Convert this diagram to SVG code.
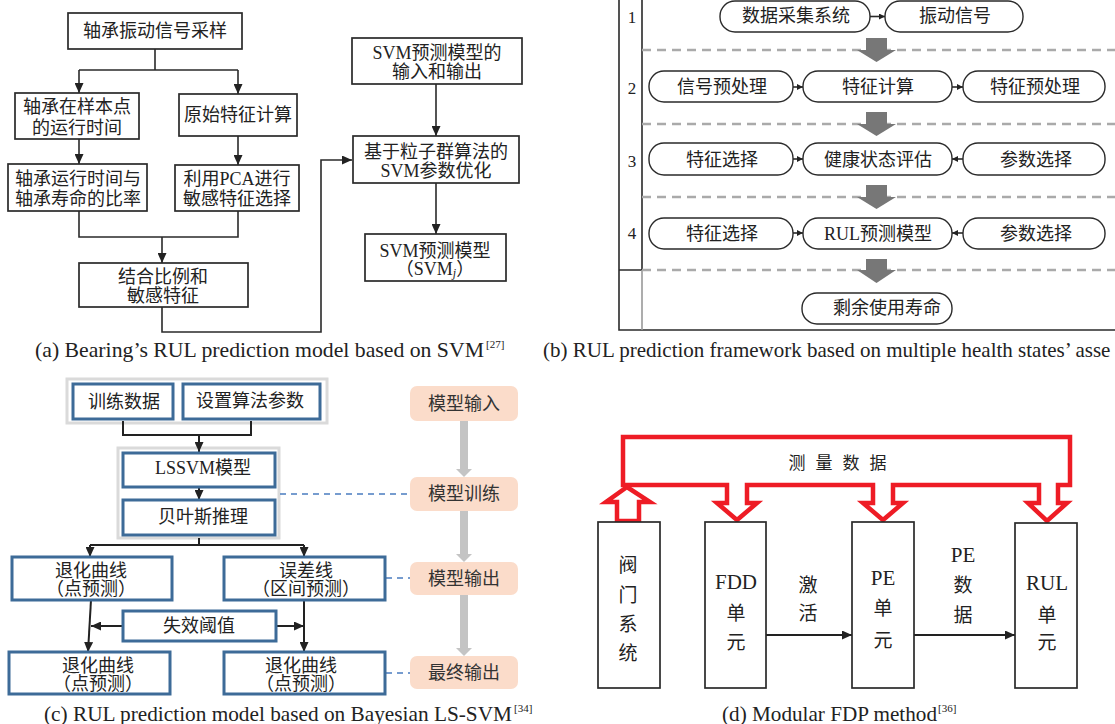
<svg xmlns="http://www.w3.org/2000/svg" width="1115" height="724" viewBox="0 0 1115 724">
<defs>
<style>
.t{font-family:'Liberation Serif','Noto Sans CJK SC',serif;font-size:18px;fill:#222;text-anchor:middle;dominant-baseline:central}
.v{font-size:19px}
.vl{font-size:21px}
.num{font-size:17px}
.cap{font-family:'Liberation Serif',serif;font-size:21px;fill:#222}
.sup{font-family:'Liberation Serif',serif;font-size:11px;fill:#222}
.box{fill:#fff;stroke:#2a2a2a;stroke-width:1.7}
.ln{fill:none;stroke:#2a2a2a;stroke-width:1.6}
.pill{fill:#fff;stroke:#2a2a2a;stroke-width:1.4}
.dsh{fill:none;stroke:#aaa;stroke-width:2.5;stroke-dasharray:9 6}
.garr{fill:#777}
.bb{fill:#fff;stroke:#3d6b98;stroke-width:3}
.gc{fill:#fff;stroke:#dadada;stroke-width:3}
.pch{fill:#fbdcca}
.bd{fill:none;stroke:#4a7cc0;stroke-width:1.5;stroke-dasharray:6 5}
.lc{fill:none;stroke:#222;stroke-width:2}
.parr{fill:#c4c4c4}
.red{fill:#fff;stroke:#ee1c25;stroke-width:4.5;stroke-linejoin:miter}
.pt{fill:#333}
</style>
<marker id="ah" markerUnits="userSpaceOnUse" markerWidth="10" markerHeight="9" refX="10" refY="4.5" orient="auto">
<path d="M0,0 L10,4.5 L0,9 z" fill="#222"/>
</marker>
<marker id="sa" markerUnits="userSpaceOnUse" markerWidth="6" markerHeight="6" refX="6" refY="3" orient="auto">
<path d="M0,0 L6,3 L0,6 z" fill="#222"/>
</marker>
</defs>
<rect width="1115" height="724" fill="#fff"/>

<!-- ===== Panel (a) ===== -->
<g id="connectors-a">
<path class="ln" d="M155,49 V70 M79,70 H238"/>
<path class="ln" d="M79,70 V93" marker-end="url(#ah)"/>
<path class="ln" d="M238,70 V94" marker-end="url(#ah)"/>
<path class="ln" d="M79,139 V164" marker-end="url(#ah)"/>
<path class="ln" d="M238,136 V165" marker-end="url(#ah)"/>
<path class="ln" d="M79,211 V237 H238 V211"/>
<path class="ln" d="M162,237 V263" marker-end="url(#ah)"/>
<path class="ln" d="M162,307 V332 H321 V160 H352" marker-end="url(#ah)"/>
<path class="ln" d="M436,84 V136" marker-end="url(#ah)"/>
<path class="ln" d="M436,183 V234" marker-end="url(#ah)"/>
</g>
<g id="a-sample"><rect class="box" x="68" y="13" width="174" height="36"/><text class="t" x="155" y="31">轴承振动信号采样</text></g>
<g id="a-runtime"><rect class="box" x="15" y="93" width="124" height="46"/><text class="t" x="77" y="107">轴承在样本点</text><text class="t" x="77" y="128">的运行时间</text></g>
<g id="a-rawfeat"><rect class="box" x="179" y="94" width="118" height="42"/><text class="t" x="238" y="115">原始特征计算</text></g>
<g id="a-ratio"><rect class="box" x="8" y="164" width="139" height="47"/><text class="t" x="78" y="179">轴承运行时间与</text><text class="t" x="78" y="199">轴承寿命的比率</text></g>
<g id="a-pca"><rect class="box" x="175" y="165" width="124" height="46"/><text class="t" x="237" y="179">利用PCA进行</text><text class="t" x="237" y="199">敏感特征选择</text></g>
<g id="a-combine"><rect class="box" x="79" y="263" width="169" height="44"/><text class="t" x="163" y="277">结合比例和</text><text class="t" x="163" y="296">敏感特征</text></g>
<g id="a-io"><rect class="box" x="352" y="38" width="170" height="46"/><text class="t" x="437" y="53">SVM预测模型的</text><text class="t" x="437" y="72">输入和输出</text></g>
<g id="a-pso"><rect class="box" x="353" y="136" width="166" height="47"/><text class="t" x="436" y="152">基于粒子群算法的</text><text class="t" x="436" y="171">SVM参数优化</text></g>
<g id="a-model"><rect class="box" x="365" y="234" width="141" height="47"/><text class="t" x="435" y="251">SVM预测模型</text><text class="t" x="435" y="269">（SVM<tspan font-style="italic" style="font-size:12px" dy="4">j</tspan><tspan dy="-4">）</tspan></text></g>
<text class="cap" x="35" y="357" textLength="449" lengthAdjust="spacingAndGlyphs">(a) Bearing’s RUL prediction model based on SVM</text>
<text class="sup" x="486" y="348">[27]</text>

<!-- ===== Panel (b) ===== -->
<g id="b-frame">
<path class="ln" d="M619,0 V330 H1115"/>
<path class="ln" d="M642,0 V270 M619,270 H642"/>
<path fill="none" stroke="#999" stroke-width="1.6" d="M642,270 V330"/>
<text class="t num" x="632" y="17">1</text>
<text class="t num" x="632" y="88">2</text>
<text class="t num" x="632" y="161">3</text>
<text class="t num" x="632" y="233">4</text>
<path class="dsh" d="M642,50 H1115 M642,124 H1115 M642,197 H1115 M642,270 H1115"/>
</g>
<g id="connectors-b">
<path class="garr" d="M866,38 H887 V50 H896 L876.5,62 L857,50 H866 Z"/>
<path class="garr" d="M866,112 H887 V124 H896 L876.5,136 L857,124 H866 Z"/>
<path class="garr" d="M866,185 H887 V197 H896 L876.5,209 L857,197 H866 Z"/>
<path class="garr" d="M866,259 H887 V270 H896 L876.5,283 L857,270 H866 Z"/>
<path class="ln" stroke-width="1.3" d="M870,16.5 H885" marker-end="url(#sa)"/>
<path class="ln" stroke-width="1.3" d="M793,87 H803" marker-end="url(#sa)"/>
<path class="ln" stroke-width="1.3" d="M952,87 H963" marker-end="url(#sa)"/>
<path class="ln" stroke-width="1.3" d="M793,159 H803" marker-end="url(#sa)"/>
<path class="ln" stroke-width="1.3" d="M963,159 H952" marker-end="url(#sa)"/>
<path class="ln" stroke-width="1.3" d="M793,233 H803" marker-end="url(#sa)"/>
<path class="ln" stroke-width="1.3" d="M963,233 H952" marker-end="url(#sa)"/>
</g>
<g id="b-daq"><rect class="pill" x="720" y="1" width="150" height="31" rx="15" ry="15"/><text class="t" x="796" y="16">数据采集系统</text></g>
<g id="b-vib"><rect class="pill" x="885" y="1" width="138" height="31" rx="15" ry="15"/><text class="t" x="955" y="16">振动信号</text></g>
<g id="b-pre"><rect class="pill" x="649" y="71" width="144" height="31" rx="15" ry="15"/><text class="t" x="722" y="87">信号预处理</text></g>
<g id="b-feat"><rect class="pill" x="803" y="71" width="149" height="31" rx="15" ry="15"/><text class="t" x="878" y="87">特征计算</text></g>
<g id="b-featpre"><rect class="pill" x="963" y="71" width="142" height="31" rx="15" ry="15"/><text class="t" x="1035" y="87">特征预处理</text></g>
<g id="b-sel3"><rect class="pill" x="649" y="143" width="144" height="32" rx="15" ry="15"/><text class="t" x="722" y="160">特征选择</text></g>
<g id="b-health"><rect class="pill" x="803" y="143" width="149" height="32" rx="15" ry="15"/><text class="t" x="878" y="160">健康状态评估</text></g>
<g id="b-par3"><rect class="pill" x="963" y="143" width="142" height="32" rx="15" ry="15"/><text class="t" x="1036" y="160">参数选择</text></g>
<g id="b-sel4"><rect class="pill" x="649" y="218" width="144" height="31" rx="15" ry="15"/><text class="t" x="722" y="234">特征选择</text></g>
<g id="b-rul"><rect class="pill" x="803" y="218" width="149" height="31" rx="15" ry="15"/><text class="t" x="878" y="234">RUL预测模型</text></g>
<g id="b-par4"><rect class="pill" x="963" y="218" width="142" height="31" rx="15" ry="15"/><text class="t" x="1036" y="234">参数选择</text></g>
<g id="b-life"><rect class="pill" x="802" y="293" width="150" height="31" rx="15" ry="15"/><text class="t" x="887" y="308">剩余使用寿命</text></g>
<text class="cap" x="543" y="357">(b) RUL prediction framework based on multiple health states’ asse</text>

<!-- ===== Panel (c) ===== -->
<g id="c-containers">
<rect class="gc" x="67" y="379" width="260" height="44"/>
<rect class="gc" x="118" y="448" width="161" height="90"/>
</g>
<g id="connectors-c">
<path class="lc" d="M123,421 V435 H251 V421"/>
<path class="lc" d="M199,435 V452" marker-end="url(#ah)"/>
<path class="lc" d="M199,487 V500" marker-end="url(#ah)"/>
<path class="lc" d="M199,538 V545 M90,545 H304"/>
<path class="lc" d="M90,545 V557" marker-end="url(#ah)"/>
<path class="lc" d="M304,545 V557" marker-end="url(#ah)"/>
<path class="lc" d="M91,600 L88,652" marker-end="url(#ah)"/>
<path class="lc" d="M304,600 V652" marker-end="url(#ah)"/>
<path class="lc" d="M123,626 H91" marker-end="url(#ah)"/>
<path class="lc" d="M276,626 H304" marker-end="url(#ah)"/>
<path class="bd" d="M280,494 H410 M386,578 H410 M386,673 H410"/>
<path class="parr" d="M460,421 H468 V469 H472 L464,477 L456,469 H460 Z"/>
<path class="parr" d="M460,511 H468 V554 H472 L464,562 L456,554 H460 Z"/>
<path class="parr" d="M460,595 H468 V648 H472 L464,656 L456,648 H460 Z"/>
</g>
<g id="c-train"><rect class="bb" x="73" y="384" width="100" height="35"/><text class="t" x="124" y="402">训练数据</text></g>
<g id="c-param"><rect class="bb" x="183" y="384" width="137" height="35"/><text class="t" x="250" y="401">设置算法参数</text></g>
<g id="c-lssvm"><rect class="bb" x="123" y="453" width="152" height="34"/><text class="t" x="203" y="468">LSSVM模型</text></g>
<g id="c-bayes"><rect class="bb" x="123" y="500" width="152" height="35"/><text class="t" x="203" y="517">贝叶斯推理</text></g>
<g id="c-deg1"><rect class="bb" x="12" y="557" width="160" height="43"/><text class="t" x="91" y="571">退化曲线</text><text class="t" x="91" y="589">（点预测）</text></g>
<g id="c-err"><rect class="bb" x="224" y="557" width="161" height="43"/><text class="t" x="306" y="571">误差线</text><text class="t" x="306" y="589">（区间预测）</text></g>
<g id="c-thr"><rect class="bb" x="123" y="611" width="153" height="30"/><text class="t" x="199" y="626">失效阈值</text></g>
<g id="c-deg2"><rect class="bb" x="9" y="652" width="161" height="42"/><text class="t" x="98" y="666">退化曲线</text><text class="t" x="98" y="684">（点预测）</text></g>
<g id="c-deg3"><rect class="bb" x="224" y="652" width="161" height="42"/><text class="t" x="301" y="666">退化曲线</text><text class="t" x="301" y="684">（点预测）</text></g>
<g id="c-in"><rect class="pch" x="410" y="386" width="108" height="35" rx="7"/><text class="t pt" x="464" y="404">模型输入</text></g>
<g id="c-tr"><rect class="pch" x="410" y="477" width="108" height="34" rx="7"/><text class="t pt" x="464" y="494">模型训练</text></g>
<g id="c-out"><rect class="pch" x="410" y="562" width="108" height="33" rx="7"/><text class="t pt" x="464" y="579">模型输出</text></g>
<g id="c-final"><rect class="pch" x="410" y="656" width="108" height="33" rx="7"/><text class="t pt" x="464" y="673">最终输出</text></g>
<text class="cap" x="44" y="721" textLength="468" lengthAdjust="spacingAndGlyphs">(c) RUL prediction model based on Bayesian LS-SVM</text>
<text class="sup" x="514" y="712">[34]</text>

<!-- ===== Panel (d) ===== -->
<g id="connectors-d">
<path class="red" d="M623,437 H1070 V485 H1058 V503 H1067 L1047,521 L1028,503 H1039 V485 H893 V503 H903 L883,520 L863,503 H873 V485 H747 V503 H757 L737,520 L717,503 H727 V485 H623 Z"/>
<path class="red" d="M617,521 V502 H606 L627,487 L650,502 H639 V521 Z"/>
<text class="t" x="797 824 851 878" y="463" style="font-size:17px">测量数据</text>
<path class="lc" stroke-width="1.6" d="M766,635 H852" marker-end="url(#ah)"/>
<path class="lc" stroke-width="1.6" d="M914,635 H1015" marker-end="url(#ah)"/>
<text class="t v" x="808" y="585">激</text>
<text class="t v" x="808" y="613">活</text>
<text class="t vl" x="963" y="555">PE</text>
<text class="t v" x="963" y="585">数</text>
<text class="t v" x="963" y="615">据</text>
</g>
<g id="d-valve"><rect class="box" x="598" y="522" width="62" height="166"/>
<text class="t v" x="628" y="565">阀</text><text class="t v" x="628" y="595">门</text><text class="t v" x="628" y="624">系</text><text class="t v" x="628" y="653">统</text></g>
<g id="d-fdd"><rect class="box" x="705" y="522" width="61" height="166"/>
<text class="t vl" x="736" y="582">FDD</text><text class="t v" x="736" y="613">单</text><text class="t v" x="736" y="642">元</text></g>
<g id="d-pe"><rect class="box" x="852" y="522" width="62" height="166"/>
<text class="t vl" x="883" y="578">PE</text><text class="t v" x="883" y="608">单</text><text class="t v" x="883" y="640">元</text></g>
<g id="d-rul"><rect class="box" x="1015" y="523" width="62" height="165"/>
<text class="t vl" x="1047" y="583">RUL</text><text class="t v" x="1047" y="615">单</text><text class="t v" x="1047" y="642">元</text></g>
<text class="cap" x="722" y="721" textLength="215" lengthAdjust="spacingAndGlyphs">(d) Modular FDP method</text>
<text class="sup" x="938" y="712">[36]</text>
</svg>
